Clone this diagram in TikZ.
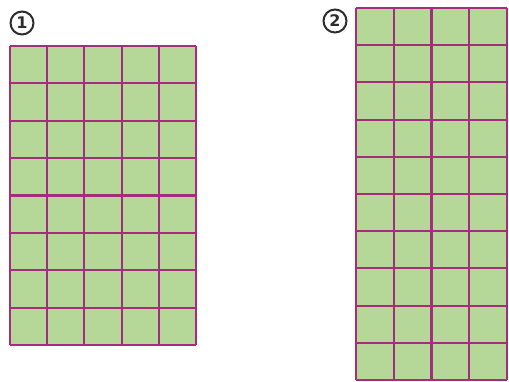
\documentclass[tikz,border=0pt]{standalone}
\usepackage{fontspec}
\setmainfont{DejaVu Sans}
\definecolor{cellgreen}{RGB}{181,215,152}
\definecolor{gridline}{RGB}{165,45,125}
\definecolor{labelgray}{RGB}{45,45,45}
\tikzset{
  gridlines/.style={draw=gridline, line width=2.1pt},
  cellfill/.style={fill=cellgreen},
  numlabel/.style={circle, draw=labelgray, line width=2pt, minimum size=23pt, inner sep=0pt, text=labelgray, font=\bfseries\fontsize{16}{16}\selectfont}
}
\begin{document}
\begin{tikzpicture}[x=1pt,y=-1pt]
\useasboundingbox (0,0) rectangle (509,381);
% grid 1: 5 x 8
\fill[cellfill] (10,46) rectangle (196,345);
\foreach \i in {0,...,5} \draw[gridlines] ({10+\i*37.2},46) -- ({10+\i*37.2},345);
\foreach \j in {0,...,8} \draw[gridlines] (10,{46+\j*37.375}) -- (196,{46+\j*37.375});
% grid 2: 4 x 10
\fill[cellfill] (356,8) rectangle (507,380);
\foreach \i in {0,...,4} \draw[gridlines] ({356+\i*37.75},8) -- ({356+\i*37.75},380);
\foreach \j in {0,...,10} \draw[gridlines] (356,{8+\j*37.2}) -- (507,{8+\j*37.2});
% labels
\node[numlabel] (n1) at (22,23) {1};
\node[numlabel] (n2) at (335,21) {2};
\end{tikzpicture}
\end{document}
